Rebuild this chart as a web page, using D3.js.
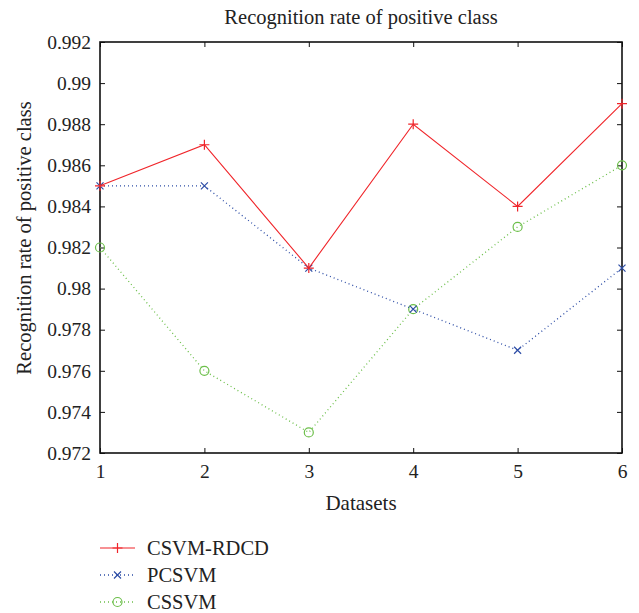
<!DOCTYPE html>
<html>
<head>
  <meta charset="utf-8">
  <script src="https://d3js.org/d3.v7.min.js"></script>
  <style>
    body { margin: 0; background: #fff; }
  </style>
</head>
<body>
<script>
  // chart data
  var datasets = [1, 2, 3, 4, 5, 6];
  var csvmRdcd = [0.985, 0.987, 0.981, 0.988, 0.984, 0.989];
  var pcsvm    = [0.985, 0.985, 0.981, 0.979, 0.977, 0.981];
  var cssvm    = [0.982, 0.976, 0.973, 0.979, 0.983, 0.986];
  var yTicks = [0.972, 0.974, 0.976, 0.978, 0.98, 0.982, 0.984, 0.986, 0.988, 0.99, 0.992];

  var series = [
    {name: "CSVM-RDCD", values: csvmRdcd, color: "#f0252a", dash: null, marker: "plus"},
    {name: "PCSVM", values: pcsvm, color: "#2d4da6", dash: "1,3", marker: "cross"},
    {name: "CSSVM", values: cssvm, color: "#6cbf4a", dash: "1,3", marker: "circle"}
  ];

  var FONT = "'Liberation Serif', 'Times New Roman', 'DejaVu Serif', serif";
  var width = 639, height = 613;
  var plotL = 100, plotR = 622, plotT = 42, plotB = 453;

  var svg = d3.select("body").append("svg")
      .attr("width", width)
      .attr("height", height);

  var x = d3.scaleLinear().domain([1, 6]).range([plotL, plotR]);
  var y = d3.scaleLinear().domain([0.972, 0.992]).range([plotB, plotT]);

  // axes, ticks pointing inward like matlab
  var fmt = function (d) { return String(+d.toFixed(3)); };
  svg.append("g")
      .attr("transform", "translate(" + plotL + ",0)")
      .call(d3.axisLeft(y).tickValues(yTicks).tickSizeInner(-5).tickSizeOuter(0).tickPadding(9).tickFormat(fmt));
  svg.append("g")
      .attr("transform", "translate(" + plotR + ",0)")
      .call(d3.axisRight(y).tickValues(yTicks).tickSizeInner(-5).tickSizeOuter(0).tickFormat(""));
  svg.append("g")
      .attr("transform", "translate(0," + plotB + ")")
      .call(d3.axisBottom(x).tickValues(datasets).tickSizeInner(-5).tickSizeOuter(0).tickPadding(11).tickFormat(d3.format("d")));
  svg.append("g")
      .attr("transform", "translate(0," + plotT + ")")
      .call(d3.axisTop(x).tickValues(datasets).tickSizeInner(-5).tickSizeOuter(0).tickFormat(""));

  svg.selectAll("g").attr("font-family", FONT).attr("font-size", 19.5);
  svg.selectAll(".tick text").attr("fill", "#222");
  svg.selectAll(".domain").remove();
  svg.selectAll(".tick line").attr("stroke", "#111").attr("stroke-width", 1);

  svg.append("rect")
      .attr("x", plotL).attr("y", plotT)
      .attr("width", plotR - plotL).attr("height", plotB - plotT)
      .attr("fill", "none").attr("stroke", "#111").attr("stroke-width", 1.6);

  function drawMarker(g, type, cx, cy, color) {
    if (type === "plus") {
      g.append("path").attr("d", "M" + (cx - 5) + "," + cy + "H" + (cx + 5) + "M" + cx + "," + (cy - 5) + "V" + (cy + 5))
        .attr("stroke", color).attr("stroke-width", 1.2).attr("fill", "none");
    } else if (type === "cross") {
      g.append("path").attr("d", "M" + (cx - 3.5) + "," + (cy - 3.5) + "L" + (cx + 3.5) + "," + (cy + 3.5) +
          "M" + (cx - 3.5) + "," + (cy + 3.5) + "L" + (cx + 3.5) + "," + (cy - 3.5))
        .attr("stroke", color).attr("stroke-width", 1.2).attr("fill", "none");
    } else {
      g.append("circle").attr("cx", cx).attr("cy", cy).attr("r", 4.5)
        .attr("stroke", color).attr("stroke-width", 1.2).attr("fill", "none");
    }
  }

  var line = d3.line()
      .x(function (d, i) { return x(datasets[i]); })
      .y(function (d) { return y(d); });

  // draw green first, then blue, then red on top
  series.slice().reverse().forEach(function (s) {
    var g = svg.append("g");
    g.append("path")
        .attr("d", line(s.values))
        .attr("fill", "none")
        .attr("stroke", s.color)
        .attr("stroke-width", s.dash ? 1.3 : 1.1)
        .attr("stroke-dasharray", s.dash);
    s.values.forEach(function (v, i) {
      drawMarker(g, s.marker, x(datasets[i]), y(v), s.color);
    });
  });

  // title and axis labels
  function label(sel, size) {
    return sel.attr("font-family", FONT).attr("font-size", size).attr("fill", "#222");
  }
  label(svg.append("text"), 20.5)
      .attr("x", (plotL + plotR) / 2).attr("y", 24)
      .attr("text-anchor", "middle")
      .text("Recognition rate of positive class");
  label(svg.append("text"), 21)
      .attr("x", (plotL + plotR) / 2).attr("y", 510)
      .attr("text-anchor", "middle")
      .text("Datasets");
  label(svg.append("text"), 20.5)
      .attr("transform", "translate(31,238) rotate(-90)")
      .attr("text-anchor", "middle")
      .text("Recognition rate of positive class");

  // legend
  var legend = svg.append("g");
  series.forEach(function (s, i) {
    var ly = 548 + i * 27;
    legend.append("line")
        .attr("x1", 100).attr("x2", 135)
        .attr("y1", ly).attr("y2", ly)
        .attr("stroke", s.color)
        .attr("stroke-width", s.dash ? 1.3 : 1.1)
        .attr("stroke-dasharray", s.dash);
    drawMarker(legend, s.marker, 117.5, ly, s.color);
    label(legend.append("text"), 20.5)
        .attr("x", 147).attr("y", ly + 7)
        .text(s.name);
  });
</script>
</body>
</html>
